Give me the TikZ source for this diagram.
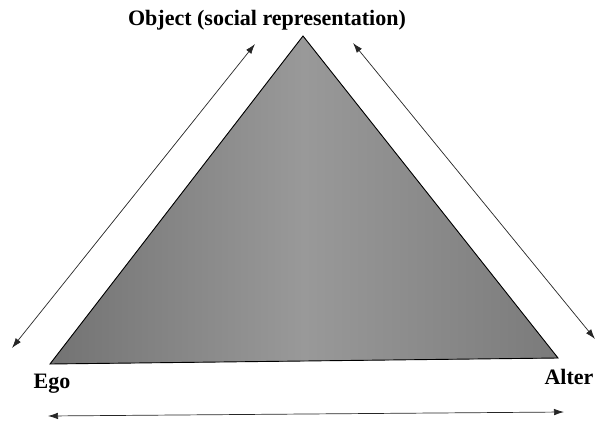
\documentclass[tikz,border=0pt]{standalone}
\usepackage{fontspec}
\setmainfont{Liberation Serif}
\usetikzlibrary{arrows.meta,positioning}

\begin{document}
\begin{tikzpicture}[
  x=1pt,y=-1pt,
  label/.style={font=\fontsize{22}{26}\selectfont\bfseries,inner sep=0pt},
  arrow/.style={{Latex[length=10pt,width=6.5pt]}-{Latex[length=10pt,width=6.5pt]},line width=0.7pt,black!85},
  pyramid/.style={draw,line width=0.9pt,left color=black!55,right color=black!52,middle color=black!40}
]
\useasboundingbox (0,0) rectangle (598,426);
% triangle corners
\coordinate (apex) at (303,36);
\coordinate (ego) at (50,364);
\coordinate (alter) at (558,358);
\filldraw[pyramid] (apex) -- (ego) -- (alter) -- cycle;
% labels
\node[label] (object) at (267,20) {Object (social representation)};
\node[label] (egolabel) at (52,384) {Ego};
\node[label] (alterlabel) at (569,377) {Alter};
% arrow ends
\coordinate (la) at (12,348);
\coordinate (lb) at (255,44);
\coordinate (ra) at (353,43);
\coordinate (rb) at (595,339);
\coordinate (ba) at (48,416);
\coordinate (bb) at (564,412);
\draw[arrow] (la) -- (lb);
\draw[arrow] (ra) -- (rb);
\draw[arrow] (ba) -- (bb);
\end{tikzpicture}
\end{document}
